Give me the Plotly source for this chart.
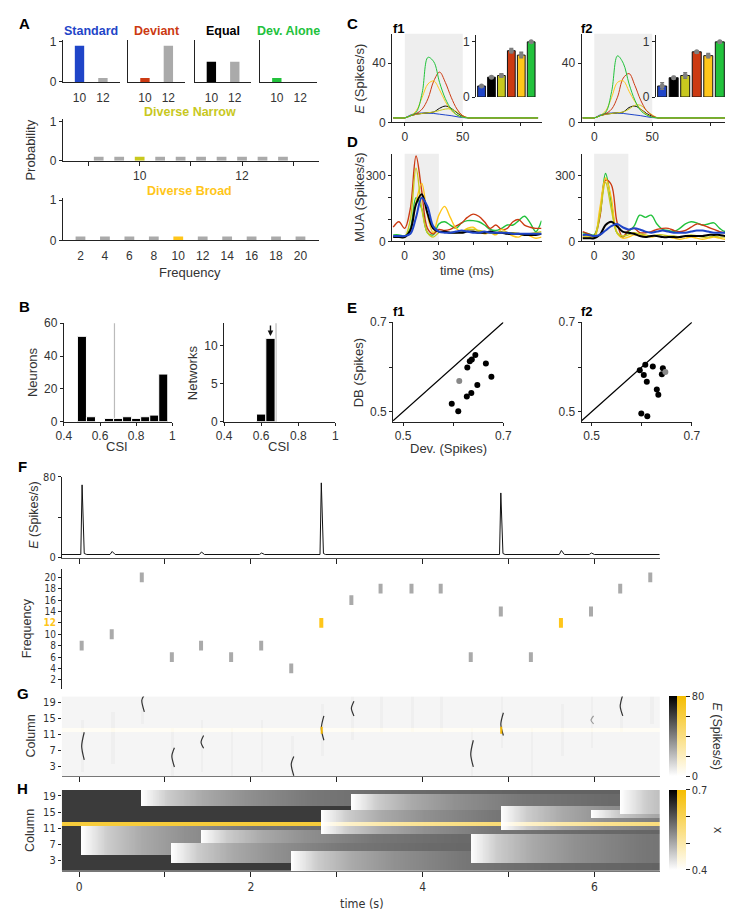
import numpy as np
import plotly.graph_objects as go

W, H = 733, 912
def X(px): return px / W
def Y(py): return 1 - py / H

FONT = "Liberation Sans, Arial, sans-serif"
NARROW = "Liberation Sans Narrow, Arial Narrow, DejaVu Sans Condensed, Liberation Sans, sans-serif"
INK = "#222222"
TXT = "#333333"
BLUE = "#1f45c8"
RED = "#cc3a12"
GREEN = "#22c23c"
OLIVE = "#c8c81e"
GOLD = "#ffc61a"
GREY = "#aaaaaa"

# ---------------- Panel A ----------------
A_FREQ = [10, 12]
A_STANDARD = [0.9, 0.1]
A_DEVIANT = [0.1, 0.9]
A_EQUAL = [0.5, 0.5]
A_ALONE = [0.1, 0.0]
A_NARROW_F = [9.2, 9.6, 10.0, 10.4, 10.8, 11.2, 11.6, 12.0, 12.4, 12.8]
A_NARROW_P = [0.1, 0.1, 0.1, 0.1, 0.1, 0.1, 0.1, 0.1, 0.1, 0.1]
A_BROAD_F = [2, 4, 6, 8, 10, 12, 14, 16, 18, 20]
A_BROAD_P = [0.1, 0.1, 0.1, 0.1, 0.1, 0.1, 0.1, 0.1, 0.1, 0.1]

# ---------------- Panel B ----------------
B_NEUR_CSI = [0.5, 0.55, 0.6, 0.65, 0.7, 0.75, 0.8, 0.85, 0.9, 0.95]
B_NEUR_N = [52, 3, 0, 2, 2, 3, 2, 3, 4, 29]
B_NET_CSI = [0.6, 0.65]
B_NET_N = [1, 11]
B_THRESH = 0.68
B_ARROW_CSI = 0.65

# ---------------- Panel C ----------------
C_T = [-10, -5, 0, 5, 10, 15, 20, 25, 30, 35, 40, 45, 50, 55, 60, 65, 70, 75, 80, 85, 90, 95, 100, 105, 110, 115]
C1_BLUE = [3, 3, 3, 5, 6, 6.3, 6.2, 6, 5.5, 5, 4.5, 3.8, 3.2, 3, 3, 3, 3, 3, 3, 3, 3, 3, 3, 3, 3, 3]
C1_BLACK = [3, 3, 3, 4.5, 5.5, 6, 6.5, 7, 9.5, 11, 9.5, 6.5, 4, 3, 3, 3, 3, 3, 3, 3, 3, 3, 3, 3, 3, 3]
C1_OLIVE = [3, 3, 3, 4.5, 5.5, 6, 6.5, 7, 8, 9, 9, 7, 4.5, 3, 3, 3, 3, 3, 3, 3, 3, 3, 3, 3, 3, 3]
C1_RED = [3, 3, 3, 4.5, 6, 9, 16, 28, 34, 27, 17, 9, 4.5, 3, 3, 3, 3, 3, 3, 3, 3, 3, 3, 3, 3, 3]
C1_GOLD = [3, 3, 3, 4.5, 8, 17, 26, 28, 22, 14, 8, 5, 3.5, 3, 3, 3, 3, 3, 3, 3, 3, 3, 3, 3, 3, 3]
C1_GREEN = [3, 3, 3, 4.5, 7, 20, 44, 41, 27, 16, 9, 5, 3.5, 3, 3, 3, 3, 3, 3, 3, 3, 3, 3, 3, 3, 3]
C2_BLUE = [3, 3, 3, 5, 6, 6.3, 6.2, 6, 5.5, 5, 4.5, 3.8, 3.2, 3, 3, 3, 3, 3, 3, 3, 3, 3, 3, 3, 3, 3]
C2_BLACK = [3, 3, 3, 4.5, 5.5, 6, 6.5, 7, 10, 11, 9, 6, 4, 3, 3, 3, 3, 3, 3, 3, 3, 3, 3, 3, 3, 3]
C2_OLIVE = [3, 3, 3, 4.5, 5.5, 6, 6.5, 7, 9, 11.5, 11.5, 8, 5, 3, 3, 3, 3, 3, 3, 3, 3, 3, 3, 3, 3, 3]
C2_RED = [3, 3, 3, 4.5, 6, 9, 17, 30, 33, 25, 15, 8, 4.5, 3, 3, 3, 3, 3, 3, 3, 3, 3, 3, 3, 3, 3]
C2_GOLD = [3, 3, 3, 4.5, 8, 17, 27, 28, 21, 14, 9, 5.5, 3.5, 3, 3, 3, 3, 3, 3, 3, 3, 3, 3, 3, 3, 3]
C2_GREEN = [3, 3, 3, 4.5, 7, 21, 45, 40, 26, 15, 8, 5, 3.5, 3, 3, 3, 3, 3, 3, 3, 3, 3, 3, 3, 3, 3]
C_STIM_WINDOW = [0, 50]
INSET_COLORS = [BLUE, "#000000", OLIVE, RED, GOLD, GREEN]
INSET1_VAL = [0.20, 0.36, 0.39, 0.84, 0.76, 1.00]
INSET1_ERR = [0.01, 0.015, 0.03, 0.04, 0.05, 0.01]
INSET2_VAL = [0.20, 0.35, 0.39, 0.82, 0.75, 1.00]
INSET2_ERR = [0.06, 0.02, 0.05, 0.02, 0.04, 0.02]

# ---------------- Panel D ----------------
D_T = [-10, -5, 0, 5, 10, 15, 20, 25, 30, 35, 40, 45, 50, 55, 60, 65, 70, 75, 80, 85, 90, 95, 100, 105, 110, 115, 120]
D1_RED = [65, 90, 60, 150, 390, 230, 60, 35, 55, 50, 55, 70, 85, 110, 125, 115, 90, 60, 75, 55, 60, 90, 100, 75, 65, 60, 60]
D1_GREEN = [30, 30, 25, 60, 200, 150, 40, 30, 80, 90, 75, 60, 85, 95, 95, 90, 75, 55, 50, 60, 75, 75, 95, 115, 85, 45, 95]
D1_GOLD = [25, 25, 20, 50, 180, 265, 120, 40, 120, 160, 110, 60, 45, 60, 65, 45, 35, 40, 30, 55, 40, 25, 20, 35, 25, 15, 20]
D1_OLIVE = [20, 20, 20, 100, 335, 150, 40, 20, 40, 45, 40, 40, 45, 55, 55, 50, 45, 40, 35, 45, 40, 40, 35, 30, 35, 40, 45]
D1_BLACK = [20, 20, 20, 50, 170, 215, 130, 60, 45, 45, 40, 40, 40, 45, 45, 40, 40, 45, 40, 40, 35, 35, 35, 30, 30, 30, 35]
D1_BLUE = [25, 25, 25, 35, 110, 200, 160, 70, 45, 40, 40, 45, 50, 45, 40, 40, 45, 40, 40, 40, 40, 35, 35, 35, 35, 35, 35]
D2_GREEN = [40, 35, 30, 120, 310, 180, 40, 20, 45, 70, 120, 110, 120, 80, 55, 50, 45, 60, 80, 90, 85, 75, 80, 85, 60, 45, 55]
D2_RED = [45, 35, 25, 110, 280, 260, 90, 20, 50, 60, 40, 40, 45, 55, 60, 60, 50, 45, 50, 65, 80, 75, 65, 55, 45, 40, 45]
D2_GOLD = [25, 25, 20, 150, 290, 200, 40, 15, 20, 30, 30, 25, 20, 25, 20, 20, 15, 10, 15, 20, 15, 10, 15, 20, 15, 10, 15]
D2_OLIVE = [20, 20, 15, 120, 270, 150, 40, 25, 30, 40, 35, 30, 25, 30, 30, 25, 25, 20, 25, 30, 25, 20, 20, 25, 20, 20, 20]
D2_BLACK = [15, 15, 15, 30, 75, 90, 70, 45, 40, 35, 25, 20, 25, 25, 20, 20, 20, 20, 25, 25, 25, 25, 30, 30, 30, 25, 25]
D2_BLUE = [30, 30, 25, 30, 50, 70, 80, 65, 55, 60, 55, 45, 40, 45, 50, 45, 40, 40, 40, 45, 50, 50, 45, 40, 40, 40, 45]
D_STIM_WINDOW = [0, 30]

# ---------------- Panel E ----------------
E1_DEV = [0.644, 0.637, 0.633, 0.628, 0.665, 0.676, 0.648, 0.636, 0.627, 0.597, 0.610]
E1_DB = [0.627, 0.617, 0.613, 0.599, 0.608, 0.578, 0.560, 0.542, 0.534, 0.518, 0.501]
E1_GREY = [0.612, 0.569]
E2_DEV = [0.607, 0.622, 0.596, 0.642, 0.604, 0.640, 0.610, 0.630, 0.633, 0.599, 0.611]
E2_DB = [0.605, 0.601, 0.593, 0.597, 0.582, 0.584, 0.567, 0.550, 0.538, 0.496, 0.490]
E2_GREY = [0.647, 0.589]
E_RANGE = [0.48, 0.70]

# ---------------- Panel F ----------------
STIM_T = [0.03, 0.38, 0.73, 1.08, 1.42, 1.77, 2.12, 2.47, 2.82, 3.17, 3.51, 3.87, 4.21, 4.56, 4.91, 5.26, 5.61, 5.96, 6.30, 6.65]
STIM_F = [8, 10, 20, 6, 8, 6, 8, 4, 12, 16, 18, 18, 18, 6, 14, 6, 12, 14, 18, 20]
DEVIANT_F = 12
F_T = [-0.2, 0.02, 0.035, 0.06, 0.09, 0.36, 0.385, 0.42, 1.40, 1.425, 1.46, 2.10, 2.125, 2.16,
       2.805, 2.82, 2.845, 2.87, 4.895, 4.91, 4.935, 4.96, 5.59, 5.615, 5.65, 5.94, 5.965, 6.0, 6.76]
F_E = [3, 3, 72, 4, 3, 3, 6, 3, 3, 5.5, 3, 3, 4.5, 3,
       3, 74, 4, 3, 3, 64, 4, 3, 3, 7, 3, 3, 4.5, 3, 3]

# ---------------- Panel G ----------------
G_BASE = 3.0
G_STREAK = 5.0
ARC_T = [0.03, 0.73, 1.08, 1.42, 2.47, 2.82, 3.17, 4.56, 4.91, 5.96, 6.30]
ARC_TOP = [11.5, 20.9, 7.6, 10.7, 5.4, 15.6, 19.3, 9.5, 16.4, 15.6, 20.9]
ARC_MID = [8.0, 19.5, 5.5, 9.0, 3.5, 12.5, 17.5, 6.0, 13.5, 14.5, 18.0]
ARC_BOT = [4.6, 16.6, 2.8, 7.5, 0.6, 9.5, 15.6, 2.8, 10.7, 13.6, 15.6]
ARC_SHADE = ["#333333"] * 9 + ["#999999", "#333333"]

# ---------------- Panel H ----------------
H_BASE = 0.63
BLK_T = [0.03, 0.73, 1.08, 1.42, 2.47, 2.82, 3.17, 4.56, 4.91, 5.96, 6.30]
BLK_LO = [5, 17, 3, 8, 1, 10, 16, 3, 11, 14, 15]
BLK_HI = [11, 20, 7, 10, 5, 15, 19, 9, 16, 15, 20]
REC_DT = [0.0, 0.05, 0.3, 0.7, 1.2, 2.0, 3.0, 4.5]
REC_X = [0.40, 0.41, 0.46, 0.50, 0.53, 0.56, 0.575, 0.585]

TIME_TICKS = [0, 1, 2, 3, 4, 5, 6]
T_RANGE = [-0.2, 6.76]

# ============================================================
LAYOUT = {}
traces = []
annotations = []
shapes = []

def sfx(n):
    return "" if n == 1 else str(n)

def xy(n):
    return dict(xaxis="x" + sfx(n), yaxis="y" + sfx(n))

def axis_pair(n, xpx, ypx, xr, yr, xkw=None, ykw=None):
    s = sfx(n)
    base = dict(showgrid=False, zeroline=False, showline=True, linecolor=INK, linewidth=1,
                ticks="outside", ticklen=3, tickwidth=1, tickcolor=INK,
                tickfont=dict(family=FONT, size=12, color=TXT), fixedrange=True)
    LAYOUT["xaxis" + s] = {**base, "domain": [X(xpx[0]), X(xpx[1])], "range": xr,
                           "anchor": "y" + s, **(xkw or {})}
    LAYOUT["yaxis" + s] = {**base, "domain": [Y(ypx[1]), Y(ypx[0])], "range": yr,
                           "anchor": "x" + s, **(ykw or {})}

def ann(text, xpx, ypx, size=13, color=TXT, bold=False, angle=0, family=FONT):
    if bold:
        text = "<b>" + text + "</b>"
    annotations.append(dict(text=text, x=X(xpx), y=Y(ypx), xref="paper", yref="paper",
                            showarrow=False, textangle=angle, xanchor="center", yanchor="middle",
                            font=dict(size=size, color=color, family=family)))

HIDE_TICK = "rgba(0,0,0,0)"

# ---------------- A ----------------
tops = [(1, A_STANDARD, BLUE, (48, 106), "Standard"),
        (2, A_DEVIANT, RED, (115, 173), "Deviant"),
        (3, A_EQUAL, "#000000", (183, 241), "Equal"),
        (4, A_ALONE, GREEN, (250, 308), "Dev. Alone")]
for n, vals, col, xpx, title in tops:
    traces.append(go.Bar(x=A_FREQ, y=vals, width=0.8, marker=dict(color=[col, GREY], line=dict(width=0)), **xy(n)))
    axis_pair(n, xpx, (25, 68), [8.58, 13.42], [0, 1.05],
              xkw=dict(tickvals=A_FREQ, ticklen=5, tickcolor=HIDE_TICK),
              ykw=dict(tickvals=[0, 1], showticklabels=(n == 1), ticks="outside" if n == 1 else ""))
    ann(title, (xpx[0] + xpx[1]) / 2, 16, size=12.5, color=col, bold=True)

narrow_colors = [OLIVE if f == 10 else GREY for f in A_NARROW_F]
traces.append(go.Bar(x=A_NARROW_F, y=A_NARROW_P, width=0.19, marker=dict(color=narrow_colors, line=dict(width=0)), **xy(5)))
axis_pair(5, (48, 310), (106, 148), [8.5, 13.5], [0, 1.05],
          xkw=dict(tickvals=[9, 10, 11, 12, 13], ticktext=["", "10", "", "12", ""], ticklen=4),
          ykw=dict(tickvals=[0, 1]))
ann("Diverse Narrow", 178, 99, size=12.5, color=OLIVE, bold=True)

broad_colors = [GOLD if f == 10 else GREY for f in A_BROAD_F]
traces.append(go.Bar(x=A_BROAD_F, y=A_BROAD_P, width=0.8, marker=dict(color=broad_colors, line=dict(width=0)), **xy(6)))
axis_pair(6, (48, 310), (186, 229), [0.56, 21.5], [0, 1.05],
          xkw=dict(tickvals=A_BROAD_F, ticklen=4, tickcolor=HIDE_TICK),
          ykw=dict(tickvals=[0, 1]))
ann("Diverse Broad", 178, 179, size=12.5, color=GOLD, bold=True)
ann("Frequency", 178, 262)
ann("Probability", 15, 137, angle=-90)

# ---------------- B ----------------
traces.append(go.Bar(x=B_NEUR_CSI, y=B_NEUR_N, width=0.05, marker=dict(color="#000000", line=dict(color="#ffffff", width=1)), **xy(7)))
axis_pair(7, (49, 160), (313, 413), [0.4, 1.0], [0, 60],
          xkw=dict(tickvals=[0.4, 0.6, 0.8, 1.0], ticktext=["0.4", "0.6", "0.8", "1"]),
          ykw=dict(tickvals=[0, 20, 40, 60]))
traces.append(go.Bar(x=B_NET_CSI, y=B_NET_N, width=0.05, marker=dict(color="#000000", line=dict(color="#ffffff", width=1)), **xy(8)))
axis_pair(8, (213, 327), (313, 413), [0.4, 1.0], [0, 13],
          xkw=dict(tickvals=[0.4, 0.6, 0.8, 1.0], ticktext=["0.4", "0.6", "0.8", "1"]),
          ykw=dict(tickvals=[0, 5, 10]))
for n in (7, 8):
    shapes.append(dict(type="line", xref="x" + sfx(n), yref="y" + sfx(n) + " domain",
                       x0=B_THRESH, x1=B_THRESH, y0=0, y1=1, line=dict(color="#bbbbbb", width=1.2), layer="below"))
annotations.append(dict(x=B_ARROW_CSI, y=11.3, ax=B_ARROW_CSI, ay=12.9, xref="x8", yref="y8", axref="x8", ayref="y8",
                        showarrow=True, arrowhead=2, arrowsize=0.8, arrowwidth=1.4, arrowcolor="#111111", text=""))
ann("Neurons", 17, 363, angle=-90)
ann("Networks", 181, 363, angle=-90)
ann("CSI", 103, 438)
ann("CSI", 269, 438)

# ---------------- C ----------------
c_sets = [
    (9, 10, (385, 538), (471, 533), [C1_BLUE, C1_BLACK, C1_OLIVE, C1_RED, C1_GOLD, C1_GREEN], INSET1_VAL, INSET1_ERR, 392),
    (11, 12, (579, 732), (655, 727), [C2_BLUE, C2_BLACK, C2_OLIVE, C2_RED, C2_GOLD, C2_GREEN], INSET2_VAL, INSET2_ERR, 585),
]
line_cols = [BLUE, "#000000", OLIVE, RED, GOLD, GREEN]
for nm, ni, xpx, ixpx, series, ival, ierr, tx in c_sets:
    shapes.append(dict(type="rect", xref="x" + sfx(nm), yref="y" + sfx(nm) + " domain",
                       x0=C_STIM_WINDOW[0], x1=C_STIM_WINDOW[1], y0=0, y1=1,
                       fillcolor="#eeeeee", line=dict(width=0), layer="below"))
    for vals, col in zip(series, line_cols):
        traces.append(go.Scatter(x=C_T, y=vals, mode="lines", line=dict(color=col, width=1, shape="spline"), **xy(nm)))
    axis_pair(nm, xpx, (19, 109), [-11, 118], [0, 60],
              xkw=dict(tickvals=[0, 50, 100], ticktext=["0", "50", ""]),
              ykw=dict(tickvals=[0, 40]))
    cats = [1, 2, 3, 4, 5, 6]
    traces.append(go.Bar(x=cats, y=ival, width=0.78, marker=dict(color=INSET_COLORS, line=dict(color="#111111", width=1)),
                         error_y=dict(type="data", array=ierr, color="#777777", thickness=1.5, width=2), **xy(ni)))
    traces.append(go.Scatter(x=cats, y=ival, mode="markers", marker=dict(color="#808080", size=5), **xy(ni)))
    axis_pair(ni, ixpx, (20, 83.3), [0.45, 6.55], [0, 1.13],
              xkw=dict(visible=False),
              ykw=dict(tickvals=[0, 1]))
    ann("f" + ("1" if nm == 9 else "2"), tx, 14, size=13, color="#000000", bold=True)
ann("<i>E</i> (Spikes/s)", 351, 65, angle=-90)

# ---------------- D ----------------
d_sets = [(13, (385, 538), [D1_GREEN, D1_RED, D1_GOLD, D1_OLIVE, D1_BLACK, D1_BLUE]),
          (14, (579, 732), [D2_GREEN, D2_RED, D2_GOLD, D2_OLIVE, D2_BLACK, D2_BLUE])]
d_cols = [GREEN, RED, GOLD, OLIVE, "#000000", BLUE]
d_wid = [1.4, 1.4, 1.4, 1.4, 2.0, 2.0]
for n, xpx, series in d_sets:
    shapes.append(dict(type="rect", xref="x" + sfx(n), yref="y" + sfx(n) + " domain",
                       x0=D_STIM_WINDOW[0], x1=D_STIM_WINDOW[1], y0=0, y1=1,
                       fillcolor="#eeeeee", line=dict(width=0), layer="below"))
    for vals, col, w in zip(series, d_cols, d_wid):
        traces.append(go.Scatter(x=D_T, y=vals, mode="lines", line=dict(color=col, width=w, shape="spline"), **xy(n)))
    axis_pair(n, xpx, (141, 230), [-11, 120], [0, 400],
              xkw=dict(tickvals=[0, 30, 60, 90], ticktext=["0", "30", "", ""]),
              ykw=dict(tickvals=[0, 100, 200, 300], ticktext=["0", "", "", "300"]))
ann("MUA (Spikes/s)", 351, 185, angle=-90)
ann("time (ms)", 462, 259)

# ---------------- E ----------------
e_sets = [(15, (386, 499), E1_DEV, E1_DB, E1_GREY, 392, "f1"),
          (16, (579, 692), E2_DEV, E2_DB, E2_GREY, 585, "f2")]
for n, xpx, dv, db, gp, tx, lab in e_sets:
    shapes.append(dict(type="line", xref="x" + sfx(n), yref="y" + sfx(n),
                       x0=E_RANGE[0], y0=E_RANGE[0], x1=E_RANGE[1], y1=E_RANGE[1],
                       line=dict(color="#000000", width=1.2)))
    traces.append(go.Scatter(x=dv, y=db, mode="markers", marker=dict(color="#000000", size=6), **xy(n)))
    traces.append(go.Scatter(x=[gp[0]], y=[gp[1]], mode="markers", marker=dict(color="#888888", size=6), **xy(n)))
    axis_pair(n, xpx, (312, 413), [0.48, 0.70], [0.478, 0.70],
              xkw=dict(tickvals=[0.5, 0.6, 0.7], ticktext=["0.5", "", "0.7"]),
              ykw=dict(tickvals=[0.5, 0.6, 0.7], ticktext=["0.5", "", "0.7"]))
    ann(lab, tx, 301, size=13, color="#000000", bold=True)
ann("DB (Spikes)", 351, 363, angle=-90)
ann("Dev. (Spikes)", 443, 440)

# ---------------- F ----------------
NFONT = dict(family=NARROW, size=11, color=TXT)
RFONT = dict(family=NARROW, size=10, color=TXT)
traces.append(go.Scatter(x=F_T, y=F_E, mode="lines", line=dict(color="#111111", width=1), **xy(17)))
axis_pair(17, (47, 659), (469, 551), T_RANGE, [0, 80],
          xkw=dict(tickvals=TIME_TICKS, showticklabels=False, ticklen=5, linecolor="#555555"),
          ykw=dict(tickvals=[0, 40, 80], ticktext=["0", "", "80"], tickfont=NFONT))
ann("<i>E</i> (Spikes/s)", 19, 508, size=12.5, angle=-90)

r_cols = [GOLD if f == DEVIANT_F else GREY for f in STIM_F]
traces.append(go.Scatter(x=STIM_T, y=STIM_F, mode="markers",
                         marker=dict(symbol="line-ns", size=7, color=r_cols, line=dict(color=r_cols, width=4)), **xy(18)))
ftext = ["<span style='color:%s'><b>12</b></span>" % GOLD if f == 12 else str(f) for f in A_BROAD_F]
axis_pair(18, (47, 659), (563, 685), T_RANGE, [0.3, 21.4],
          xkw=dict(visible=False),
          ykw=dict(tickvals=A_BROAD_F, ticktext=ftext, tickfont=RFONT))
ann("Frequency", 12, 623, size=12.5, angle=-90)

# ---------------- G / H heatmaps ----------------
TG = np.round(np.arange(T_RANGE[0], T_RANGE[1] + 0.005, 0.01), 3)
COLS = np.arange(1, 21)
zg = np.full((20, len(TG)), G_BASE)
for t0, f in zip(STIM_T, STIM_F):
    m = (TG >= t0) & (TG < t0 + 0.03)
    for c in COLS:
        if abs(c - f) <= 6:
            zg[c - 1, m] = G_STREAK
row = DEVIANT_F - 1
zg_grey = zg.copy(); zg_grey[row, :] = np.nan
zg_gold = np.full_like(zg, np.nan); zg_gold[row, :] = zg[row, :]

zh = np.full((20, len(TG)), H_BASE)
for t0, lo, hi in zip(BLK_T, BLK_LO, BLK_HI):
    m = TG >= t0
    zh[lo - 1:hi, m] = np.interp(TG[m] - t0, REC_DT, REC_X)
zh_grey = zh.copy(); zh_grey[row, :] = np.nan
zh_gold = np.full_like(zh, np.nan); zh_gold[row, :] = zh[row, :]

GREY_CS = [[0, "#ffffff"], [1, "#000000"]]
GOLD_CS = [[0, "#ffffff"], [1, "#f5bd00"]]

def cbar(ytop, tickvals=None, ticktext=None, x=668, show=False):
    d = dict(x=X(x), xanchor="left", y=Y(ytop), yanchor="top", len=80, lenmode="pixels",
             thickness=9, thicknessmode="pixels", xpad=0, ypad=0, outlinewidth=0)
    if show:
        d.update(tickvals=tickvals, ticktext=ticktext, ticks="outside", ticklen=4, tickcolor=INK,
                 tickfont=NFONT)
    else:
        d.update(ticks="", showticklabels=False)
    return d

traces.append(go.Heatmap(x=TG, y=COLS, z=zg_grey, zmin=0, zmax=80, colorscale=GREY_CS,
                         colorbar=cbar(692, x=668), hoverinfo="skip", **xy(19)))
traces.append(go.Heatmap(x=TG, y=COLS, z=zg_gold, zmin=0, zmax=80, colorscale=GOLD_CS,
                         colorbar=cbar(692, [0, 20, 40, 60, 80], ["0", "", "", "", "80"], x=677, show=True),
                         hoverinfo="skip", **xy(19)))
for t0, top, mid, bot, sh in zip(ARC_T, ARC_TOP, ARC_MID, ARC_BOT, ARC_SHADE):
    traces.append(go.Scatter(x=[t0 + 0.03, t0, t0 + 0.03], y=[top, mid, bot], mode="lines",
                             line=dict(color=sh, width=1.2, shape="spline", smoothing=0.8), **xy(19)))
cross_t = [t0 + 0.005 for t0, top, bot in zip(ARC_T, ARC_TOP, ARC_BOT) if bot < DEVIANT_F < top]
traces.append(go.Scatter(x=cross_t, y=[DEVIANT_F] * len(cross_t), mode="markers",
                         marker=dict(symbol="line-ns", size=5, line=dict(color="#f0b400", width=2)), **xy(19)))
axis_pair(19, (47, 659), (692, 773), T_RANGE, [0.5, 20.5],
          xkw=dict(tickvals=TIME_TICKS, showticklabels=False, ticklen=5, linecolor="#777777"),
          ykw=dict(tickvals=[3, 7, 11, 15, 19], showline=False, tickfont=NFONT))
ann("Column", 15, 732, size=12.5, angle=-90)
ann("<i>E</i> (Spikes/s)", 718, 732, size=12.5, angle=90)

traces.append(go.Heatmap(x=TG, y=COLS, z=zh_grey, zmin=0.4, zmax=0.7, colorscale=GREY_CS,
                         colorbar=cbar(787, x=668), hoverinfo="skip", **xy(20)))
traces.append(go.Heatmap(x=TG, y=COLS, z=zh_gold, zmin=0.4, zmax=0.7, colorscale=GOLD_CS,
                         colorbar=cbar(787, [0.4, 0.5, 0.6, 0.7], ["0.4", "", "", "0.7"], x=677, show=True),
                         hoverinfo="skip", **xy(20)))
axis_pair(20, (47, 659), (787, 869), T_RANGE, [0.5, 20.5],
          xkw=dict(tickvals=TIME_TICKS, ticktext=["0", "", "2", "", "4", "", "6"], ticklen=5,
                   linecolor="#777777", tickfont=dict(family=NARROW, size=12, color=TXT)),
          ykw=dict(tickvals=[3, 7, 11, 15, 19], showline=False, tickfont=NFONT))
ann("Column", 15, 828, size=12.5, angle=-90)
ann("x", 718, 828, size=12.5, angle=90)
ann("time (s)", 354, 902, size=12.5, family=NARROW)

# ---------------- panel letters ----------------
for L, xp, yp in [("A", 9, 9), ("B", 9, 296), ("C", 344, 9), ("D", 344, 128), ("E", 344, 297),
                  ("F", 7, 459), ("G", 7, 689), ("H", 7, 786)]:
    ann(L, xp, yp, size=15, color="#000000", bold=True)

fig = go.Figure(data=traces)
fig.update_layout(**LAYOUT)
fig.update_layout(width=W, height=H, margin=dict(l=0, r=0, t=0, b=0, pad=0),
                  paper_bgcolor="#ffffff", plot_bgcolor="#ffffff", showlegend=False,
                  font=dict(family=FONT, size=12, color=TXT),
                  annotations=annotations, shapes=shapes, barmode="overlay")
fig.write_html("out.html")
